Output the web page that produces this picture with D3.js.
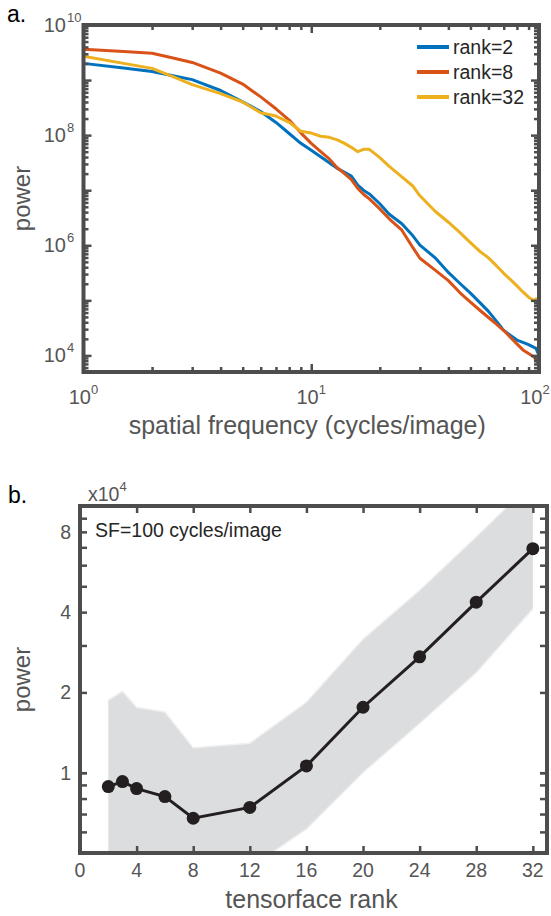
<!DOCTYPE html>
<html>
<head>
<meta charset="utf-8">
<script src="https://cdn.jsdelivr.net/npm/d3@7"></script>
<style>
  body { margin: 0; background: #fff; }
  svg { display: block; font-family: "Liberation Sans", Arial, sans-serif; }
</style>
</head>
<body>
<div id="chart"></div>
<script>
// panel a: power spectrum per tensorface rank
const freq = [1, 1.5, 2, 2.5, 3, 4, 5, 6, 7, 8, 9, 10, 11, 12, 13, 14, 15, 16, 17, 18,
  20, 22, 25, 28, 30, 35, 40, 45, 50, 55, 60, 65, 70, 75, 80, 85, 90, 95, 97, 100];
const powerRank2 = [2.01e9, 1.65e9, 1.43e9, 1.19e9, 1.02e9, 6.47e8, 4.03e8, 2.69e8, 1.70e8, 1.07e8,
  7.10e7, 5.31e7, 4.06e7, 3.14e7, 2.49e7, 2.12e7, 1.81e7, 1.24e7, 9.9e6, 8.55e6,
  5.68e6, 3.66e6, 2.46e6, 1.47e6, 1.01e6, 5.92e5, 3.22e5, 2.02e5, 1.35e5, 9.08e4,
  6.31e4, 4.19e4, 2.85e4, 2.31e4, 1.90e4, 1.73e4, 1.57e4, 1.40e4, 1.34e4, 1.0e4];
const powerRank8 = [3.63e9, 3.29e9, 3.06e9, 2.49e9, 2.09e9, 1.34e9, 8.45e8, 4.95e8, 3.01e8, 1.88e8,
  1.10e8, 7.10e7, 5.02e7, 3.69e7, 2.56e7, 2.00e7, 1.55e7, 1.08e7, 8.37e6, 6.95e6,
  4.58e6, 3.03e6, 1.88e6, 8.95e5, 5.82e5, 3.54e5, 2.28e5, 1.37e5, 9.27e4, 6.61e4,
  4.88e4, 3.69e4, 2.83e4, 2.12e4, 1.62e4, 1.26e4, 1.08e4, 9.38e3, 8.45e3, 6.56e3];
const powerRank32 = [2.70e9, 2.01e9, 1.63e9, 1.13e9, 8.27e8, 5.68e8, 4.00e8, 2.55e8, 2.22e8, 1.71e8,
  1.18e8, 1.09e8, 9.55e7, 9.12e7, 8.20e7, 7.08e7, 6.00e7, 5.00e7, 5.53e7, 5.53e7,
  3.90e7, 2.72e7, 1.74e7, 1.18e7, 7.93e6, 4.15e6, 2.62e6, 1.70e6, 1.12e6, 7.76e5,
  5.90e5, 4.26e5, 3.10e5, 2.37e5, 1.83e5, 1.42e5, 1.14e5, 9.80e4, 1.07e5, 6.78e4];
const seriesNames = ["rank=2", "rank=8", "rank=32"];
const seriesColors = ["#0072bd", "#d95319", "#edb120"];

// panel b: power at SF=100 vs rank
const ranks = [2, 3, 4, 6, 8, 12, 16, 20, 24, 28, 32];
const powerMean = [8.87e3, 9.26e3, 8.72e3, 8.14e3, 6.75e3, 7.41e3, 1.06e4, 1.76e4, 2.72e4, 4.36e4, 6.92e4];
const powerUpper = [1.87e4, 2.02e4, 1.76e4, 1.69e4, 1.24e4, 1.29e4, 1.84e4, 3.17e4, 4.83e4, 7.67e4, 1.23e5];
const powerLower = [1.5e3, 1.6e3, 1.8e3, 2.0e3, 2.4e3, 4.4e3, 6.14e3, 1.0e4, 1.53e4, 2.37e4, 4.11e4];
const rankTicks = [0, 4, 8, 12, 16, 20, 24, 28, 32];
const powerTicksB = [1e4, 2e4, 4e4, 8e4];
const powerTickLabelsB = ["1", "2", "4", "8"];

var width = 551, height = 916;
var axisColor = "#4d4d4d", labelColor = "#555", textDark = "#262626";

var svg = d3.select("#chart").append("svg")
    .attr("width", width)
    .attr("height", height);

// inward ticks on one side, no domain line
function ticks(g, scale, side, values, size) {
  var make = {bottom: d3.axisBottom, top: d3.axisTop, left: d3.axisLeft, right: d3.axisRight}[side];
  g.call(make(scale).tickValues(values).tickSizeInner(-size).tickSizeOuter(0).tickFormat(""));
  g.select(".domain").remove();
  g.selectAll("line").attr("stroke", axisColor).attr("stroke-width", 2.5);
}

function frame(box, xs, ys, xMajor, xMinor, yMajor, yMinor, majLen, minLen) {
  var sides = [
    ["bottom", "translate(0," + box.bottom + ")", xs, xMajor, xMinor],
    ["top", "translate(0," + box.top + ")", xs, xMajor, xMinor],
    ["left", "translate(" + box.left + ",0)", ys, yMajor, yMinor],
    ["right", "translate(" + box.right + ",0)", ys, yMajor, yMinor]
  ];
  sides.forEach(function (s) {
    if (s[4].length) ticks(svg.append("g").attr("transform", s[1]), s[2], s[0], s[4], minLen);
    ticks(svg.append("g").attr("transform", s[1]), s[2], s[0], s[3], majLen);
  });
  svg.append("rect")
    .attr("x", box.left).attr("y", box.top)
    .attr("width", box.right - box.left).attr("height", box.bottom - box.top)
    .attr("fill", "none").attr("stroke", axisColor).attr("stroke-width", 4);
}

function logMinor(lo, hi) {
  var out = [];
  for (var e = Math.floor(Math.log10(lo)); e <= Math.ceil(Math.log10(hi)); e++) {
    for (var m = 2; m <= 9; m++) {
      var v = m * Math.pow(10, e);
      if (v > lo && v < hi) out.push(v);
    }
  }
  return out;
}

// ---------- panel a ----------
var a = {left: 83.5, right: 539, top: 25, bottom: 372};
var xA = d3.scaleLog().domain([1, 100]).range([a.left, a.right]);
var yA = d3.scaleLog().domain([5e3, 1e10]).range([a.bottom, a.top]);

svg.append("clipPath").attr("id", "clipA").append("rect")
  .attr("x", a.left).attr("y", a.top)
  .attr("width", a.right - a.left).attr("height", a.bottom - a.top);

var lineA = d3.line()
  .x(function (d) { return xA(d[0]); })
  .y(function (d) { return yA(d[1]); });

[powerRank2, powerRank8, powerRank32].forEach(function (series, i) {
  svg.append("path")
    .datum(freq.map(function (f, j) { return [f, series[j]]; }))
    .attr("clip-path", "url(#clipA)")
    .attr("fill", "none")
    .attr("stroke", seriesColors[i])
    .attr("stroke-width", 3)
    .attr("stroke-linejoin", "round")
    .attr("d", lineA);
});

frame(a, xA, yA,
  [1, 10, 100], logMinor(1, 100),
  [1e4, 1e5, 1e6, 1e7, 1e8, 1e9, 1e10], logMinor(5e3, 1e10),
  8, 5);

// log tick labels with superscripts (last one nudged so it stays on the page)
[1, 10, 100].forEach(function (v, i) {
  var t = svg.append("text")
    .attr("x", xA(v) - (i === 2 ? 4 : 0)).attr("y", 404)
    .attr("text-anchor", "middle")
    .attr("fill", labelColor)
    .attr("font-size", 20);
  t.append("tspan").text("10");
  t.append("tspan").attr("font-size", 13).attr("dy", -10).text(Math.round(Math.log10(v)));
});
[1e4, 1e6, 1e8, 1e10].forEach(function (v) {
  svg.append("text")
    .attr("x", 66).attr("y", yA(v) + 7)
    .attr("text-anchor", "end")
    .attr("fill", labelColor)
    .attr("font-size", 20)
    .text("10");
  svg.append("text")
    .attr("x", 67).attr("y", yA(v) - 3)
    .attr("fill", labelColor)
    .attr("font-size", 13)
    .text(Math.round(Math.log10(v)));
});

svg.append("text")
  .attr("x", (a.left + a.right) / 2 - 4).attr("y", 434)
  .attr("text-anchor", "middle")
  .attr("fill", labelColor)
  .attr("font-size", 25)
  .text("spatial frequency (cycles/image)");

svg.append("text")
  .attr("transform", "translate(30," + (a.top + a.bottom) / 2 + ") rotate(-90)")
  .attr("text-anchor", "middle")
  .attr("fill", labelColor)
  .attr("font-size", 24)
  .text("power");

// legend
seriesNames.forEach(function (name, i) {
  var y = 47 + i * 25;
  svg.append("line")
    .attr("x1", 417).attr("x2", 449)
    .attr("y1", y).attr("y2", y)
    .attr("stroke", seriesColors[i])
    .attr("stroke-width", 4);
  svg.append("text")
    .attr("x", 453).attr("y", y + 7)
    .attr("fill", textDark)
    .attr("font-size", 19.5)
    .text(name);
});

svg.append("text")
  .attr("x", 7).attr("y", 22)
  .attr("font-size", 23)
  .attr("fill", "#000")
  .text("a.");

// ---------- panel b ----------
var b = {left: 80, right: 547, top: 506, bottom: 853};
var xB = d3.scaleLinear().domain([0, 33]).range([b.left, b.right]);
var yB = d3.scaleLog().domain([5e3, 1e5]).range([b.bottom, b.top]);

svg.append("clipPath").attr("id", "clipB").append("rect")
  .attr("x", b.left).attr("y", b.top)
  .attr("width", b.right - b.left).attr("height", b.bottom - b.top);

var bandData = ranks.map(function (r, i) {
  return {r: r, lo: powerLower[i], hi: powerUpper[i], m: powerMean[i]};
});

svg.append("path")
  .datum(bandData)
  .attr("clip-path", "url(#clipB)")
  .attr("fill", "#dcdddf")
  .attr("d", d3.area()
    .x(function (d) { return xB(d.r); })
    .y0(function (d) { return yB(d.lo); })
    .y1(function (d) { return yB(d.hi); }));

["hi", "lo"].forEach(function (k) {
  svg.append("path")
    .datum(bandData)
    .attr("clip-path", "url(#clipB)")
    .attr("fill", "none")
    .attr("stroke", "#f0f0f0")
    .attr("stroke-width", 1.5)
    .attr("d", d3.line()
      .x(function (d) { return xB(d.r); })
      .y(function (d) { return yB(d[k]); }));
});

svg.append("path")
  .datum(bandData)
  .attr("fill", "none")
  .attr("stroke", "#231f20")
  .attr("stroke-width", 3)
  .attr("d", d3.line()
    .x(function (d) { return xB(d.r); })
    .y(function (d) { return yB(d.m); }));

svg.append("g")
  .selectAll("circle")
  .data(bandData)
  .enter()
  .append("circle")
    .attr("cx", function (d) { return xB(d.r); })
    .attr("cy", function (d) { return yB(d.m); })
    .attr("r", 6.5)
    .attr("fill", "#231f20");

var yMinorB = logMinor(5e3, 1e5).filter(function (v) { return powerTicksB.indexOf(v) < 0; });
frame(b, xB, yB, rankTicks, [], powerTicksB.concat([1e4]), yMinorB, 7, 7);

rankTicks.forEach(function (v) {
  svg.append("text")
    .attr("x", xB(v)).attr("y", 877)
    .attr("text-anchor", "middle")
    .attr("fill", labelColor)
    .attr("font-size", 19.5)
    .text(v);
});
powerTicksB.forEach(function (v, i) {
  svg.append("text")
    .attr("x", 71).attr("y", yB(v) + 7)
    .attr("text-anchor", "end")
    .attr("fill", labelColor)
    .attr("font-size", 19.5)
    .text(powerTickLabelsB[i]);
});

var mult = svg.append("text")
  .attr("x", 88).attr("y", 501)
  .attr("fill", labelColor)
  .attr("font-size", 19.5);
mult.append("tspan").text("x10");
mult.append("tspan").attr("font-size", 13).attr("dy", -10).text("4");

svg.append("text")
  .attr("x", 95).attr("y", 537)
  .attr("fill", textDark)
  .attr("font-size", 19.5)
  .text("SF=100 cycles/image");

svg.append("text")
  .attr("x", (b.left + b.right) / 2 - 2).attr("y", 908)
  .attr("text-anchor", "middle")
  .attr("fill", labelColor)
  .attr("font-size", 25)
  .text("tensorface rank");

svg.append("text")
  .attr("transform", "translate(30," + (b.top + b.bottom) / 2 + ") rotate(-90)")
  .attr("text-anchor", "middle")
  .attr("fill", labelColor)
  .attr("font-size", 24)
  .text("power");

svg.append("text")
  .attr("x", 8).attr("y", 503)
  .attr("font-size", 23)
  .attr("fill", "#000")
  .text("b.");
</script>
</body>
</html>
